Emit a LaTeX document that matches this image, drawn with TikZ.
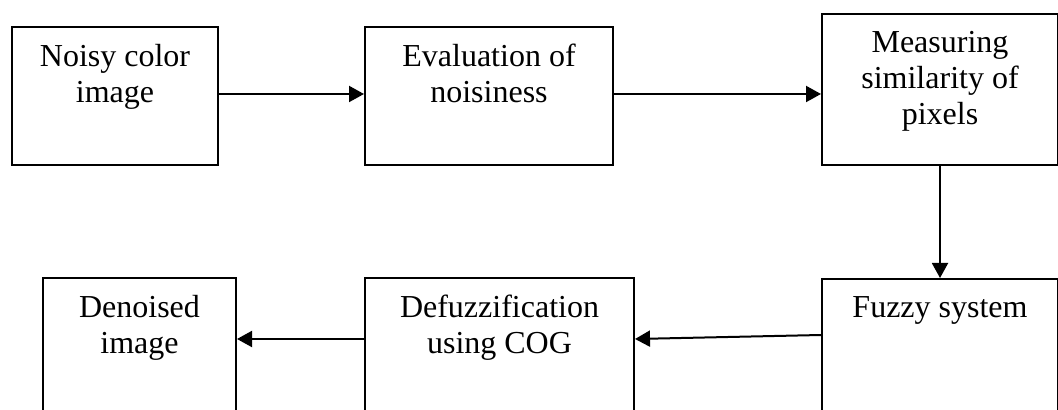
\documentclass[tikz,border=0pt]{standalone}
\usepackage{fontspec}
\setmainfont{Liberation Serif}
\usetikzlibrary{arrows.meta,positioning,calc}

\tikzset{
  blk/.style={draw,line width=1pt,inner sep=0pt,anchor=north west},
  blktext/.style={font=\fontsize{16}{18}\selectfont,align=center,inner sep=0pt,anchor=north},
  flow/.style={line width=1pt,-{Triangle[length=7.5pt,width=8pt]}}
}

\begin{document}
\begin{tikzpicture}[x=0.5pt,y=-0.5pt]
  \useasboundingbox (0,0) rectangle (1058,410);
  \clip (0,0) rectangle (1058,410);
  % boxes: name/x/y/width/height/text (pixel units)
  \foreach \n/\x/\y/\w/\h/\t in {
      noisy/11/26/206/138/{Noisy color\\image},
      eval/364/26/248/138/{Evaluation of\\noisiness},
      measure/821/13/236/151/{Measuring\\similarity of\\pixels},
      fuzzy/821/278/236/200/{Fuzzy system},
      defuzz/364/277/269/200/{Defuzzification\\using COG},
      denoised/42/277/193/200/{Denoised\\image}}{
    \node[blk,minimum width=\w*0.5pt,minimum height=\h*0.5pt] (\n) at (\x,\y) {};
    \node[blktext] (\n-txt) at ([yshift=-9pt]\n.north) {\t};
  }
  % connectors
  \draw[flow] ([yshift=1pt]noisy.east) -- ([yshift=1pt]eval.west);
  \draw[flow] ([yshift=1pt]eval.east) -- ([yshift=1pt]eval.east -| measure.west);
  \draw[flow] (measure.south) -- (fuzzy.north);
  \draw[flow] ($(fuzzy.north west)+(0,57)$) -- ($(defuzz.north east)+(0,62)$);
  \draw[flow] ($(defuzz.north west)+(0,62)$) -- ($(denoised.north east)+(0,62)$);
\end{tikzpicture}
\end{document}
